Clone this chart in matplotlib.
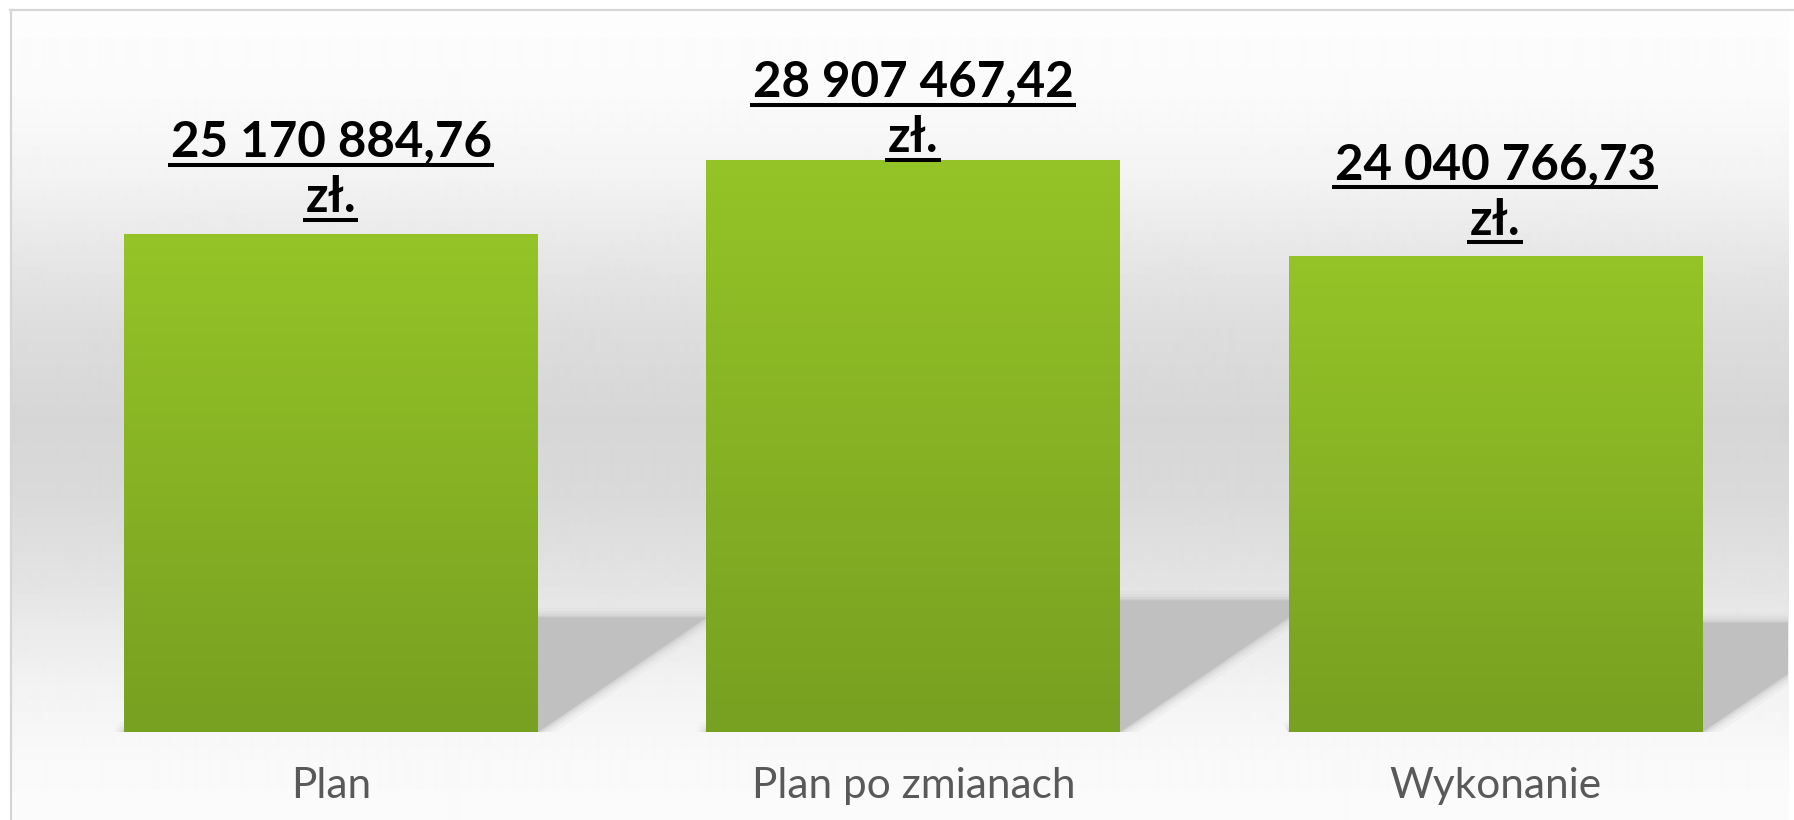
import numpy as np
import matplotlib
matplotlib.use("Agg")
import matplotlib.pyplot as plt
from matplotlib.patches import Polygon
from matplotlib.colors import LinearSegmentedColormap
from matplotlib.transforms import IdentityTransform

categories = ["Plan", "Plan po zmianach", "Wykonanie"]
values = [25170884.76, 28907467.42, 24040766.73]
value_labels = ["25 170 884,76", "28 907 467,42", "24 040 766,73"]
currency = "zł."

W, H = 1794, 820
fig = plt.figure(figsize=((W + 0.3) / 100, (H + 0.3) / 100), dpi=100)
fig.patch.set_facecolor("white")

# background: grey wall gradient + thin frame
bg = fig.add_axes([0, 0, 1, 1], zorder=0)
stops_y = [10, 100, 170, 260, 330, 420, 500, 580, 640, 700, 760, 820]
stops_v = [253, 250, 244, 230, 221, 214, 218, 227, 236, 244, 249, 251]
yy = np.arange(10, H + 1)
g = np.interp(yy, stops_y, stops_v) / 255.0
grad = np.repeat(g[:, None], 2, axis=1)
bg.imshow(grad, cmap="gray", vmin=0, vmax=1, extent=[11, 1788, H, 10],
          aspect="auto", interpolation="bilinear")
bg.plot([10, W], [10.5, 10.5], color="#d6d6d6", lw=1.6)
bg.plot([10.5, 10.5], [10, H], color="#d6d6d6", lw=1.6)
bg.set_xlim(0, W)
bg.set_ylim(H, 0)
bg.axis("off")

# main axes
ax = fig.add_axes([11 / W, (H - 732) / H, (1788 - 11) / W, (732 - 10) / H], zorder=1)
ax.patch.set_alpha(0)
ax.set_xlim(-0.550, 2.503)
ax.set_ylim(0, 36.5e6)
ax.set_xticks([])
ax.set_yticks([])
for s in ax.spines.values():
    s.set_visible(False)

x = np.arange(len(categories))
bar_w = 0.711

# scale factors (px per unit) to shear the shadows
p0 = ax.transData.transform((0, 0))
p1 = ax.transData.transform((1, 1e6))
px_x = p1[0] - p0[0]
px_y = (p1[1] - p0[1]) / 1e6

# floor shadows behind bars
for xi, v in zip(x, values):
    sh = 0.23 * v
    shift = sh * px_y / 0.68 / px_x
    xl, xr = xi - bar_w / 2, xi + bar_w / 2
    pts = [(xl, 0), (xr, 0), (xr + shift, sh), (xl + shift, sh)]
    for lw, a in [(14, 0.10), (9, 0.16), (5, 0.25), (2, 0.4)]:
        ax.add_patch(Polygon(pts, closed=True, facecolor="none", edgecolor="#c0c0c0",
                             lw=lw, alpha=a, joinstyle="round", zorder=1))
    ax.add_patch(Polygon(pts, closed=True, facecolor="#c0c0c0", edgecolor="none", zorder=1.5))

# bars with vertical green gradient
bars = ax.bar(x, values, width=bar_w, color="#86b224", zorder=3)
green = LinearSegmentedColormap.from_list("g", ["#78a021", "#94c427"])
col = np.linspace(0, 1, 256)[:, None]
for b in bars:
    bx, by = b.get_x(), b.get_y()
    im = ax.imshow(col, cmap=green, origin="lower", aspect="auto",
                   extent=[bx, bx + b.get_width(), by, by + b.get_height()], zorder=3.5)
    im.set_clip_path(b)
ax.set_xlim(-0.550, 2.503)
ax.set_ylim(0, 36.5e6)

# category labels under the bars
for xi, c in zip(x, categories):
    ax.annotate(c, xy=(xi, 0), xytext=(0, -66), textcoords="offset pixels",
                ha="center", va="baseline", fontsize=30.5, family=["Lato", "DejaVu Sans"],
                color="#595959", annotation_clip=False)

# value labels (two lines, underlined), kept inside the chart top
top_limit = H - 97
texts = []
for xi, v, lab in zip(x, values, value_labels):
    top = ax.transData.transform((xi, v))[1]
    y1 = min(top + 77, top_limit)
    y2 = y1 - 55
    for txt, yl in [(lab, y1), (currency, y2)]:
        t = ax.annotate(txt, xy=(xi, v), xytext=(0, yl - top), textcoords="offset pixels",
                        ha="center", va="baseline", fontsize=35.5, fontweight="bold",
                        family=["Lato", "DejaVu Sans"], color="black",
                        annotation_clip=False, zorder=6)
        texts.append((t, yl))

fig.canvas.draw()
r = fig.canvas.get_renderer()
for t, yl in texts:
    bb = t.get_window_extent(r)
    ax.plot([bb.x0 - 3, bb.x1 + 2], [yl - 8, yl - 8], transform=IdentityTransform(),
            color="black", lw=2.9, solid_capstyle="butt", clip_on=False, zorder=6)

fig.savefig("out.png", dpi=100)
